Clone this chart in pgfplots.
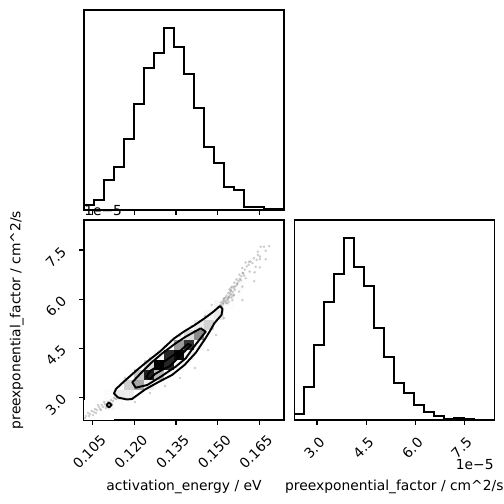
\documentclass[border=0pt]{standalone}
\usepackage{fontspec}
\setmainfont{DejaVu Sans}
\usepackage{pgfplots}
\usepackage{pgfplotstable}
\pgfplotsset{compat=1.18}

\pgfplotsset{
  colormap={dens}{color(0)=(white) color(1)=(black)},
  panel/.style={
    scale only axis, width=144bp, height=144bp,
    axis line style={line width=0.8bp},
    tick align=outside, tick pos=left,
    major tick length=3.5bp,
    every tick/.style={black, line width=0.8bp},
    tick label style={font=\fontsize{10}{12}\selectfont, inner sep=0pt},
    label style={font=\fontsize{10}{12}\selectfont, inner sep=0pt},
  },
  jointlimits/.style={xmin=0.10187, xmax=0.17387, ymin=2.3065, ymax=8.4165},
  histline/.style={const plot, black, line width=1.4bp, line join=miter},
  levelline/.style={black, line width=1.4bp, line join=round},
}

% 2-d histogram cells: bin centres and relative density f = n / n_max
\pgfplotstableread{
x       y      f
0.1037  2.459  0.033
0.1037  2.765  0.009
0.1073  2.459  0.045
0.1073  2.765  0.056
0.1073  3.070  0.007
0.1109  2.459  0.030
0.1109  2.765  0.181
0.1109  3.070  0.116
0.1109  3.376  0.008
0.1145  2.765  0.095
0.1145  3.070  0.289
0.1145  3.376  0.095
0.1181  2.765  0.018
0.1181  3.070  0.275
0.1181  3.376  0.427
0.1181  3.681  0.071
0.1217  3.070  0.079
0.1217  3.376  0.589
0.1217  3.681  0.473
0.1217  3.987  0.039
0.1253  3.070  0.006
0.1253  3.376  0.246
0.1253  3.681  0.934
0.1253  3.987  0.384
0.1253  4.292  0.016
0.1289  3.376  0.026
0.1289  3.681  0.517
0.1289  3.987  1.000
0.1289  4.292  0.211
0.1325  3.681  0.098
0.1325  3.987  0.917
0.1325  4.292  0.917
0.1325  4.598  0.098
0.1361  3.987  0.163
0.1361  4.292  0.979
0.1361  4.598  0.630
0.1361  4.903  0.042
0.1397  4.292  0.235
0.1397  4.598  0.892
0.1397  4.903  0.367
0.1397  5.209  0.015
0.1433  4.598  0.176
0.1433  4.903  0.671
0.1433  5.209  0.276
0.1433  5.514  0.012
0.1469  4.903  0.110
0.1469  5.209  0.417
0.1469  5.514  0.171
0.1469  5.820  0.007
0.1505  5.209  0.047
0.1505  5.514  0.281
0.1505  5.820  0.181
0.1505  6.125  0.012
0.1541  5.514  0.012
0.1541  5.820  0.114
0.1541  6.125  0.114
0.1541  6.431  0.012
0.1577  6.125  0.064
0.1577  6.431  0.125
0.1577  6.736  0.026
0.1613  6.736  0.020
0.1613  7.042  0.013
0.1649  7.042  0.011
0.1649  7.348  0.021
}\cells

% samples lying outside the outermost contour
\pgfplotstableread{
x       y
0.1500  5.75
0.1508  5.80
0.1515  5.78
0.1520  5.85
0.1512  5.90
0.1525  5.92
0.1530  5.88
0.1522  6.00
0.1535  5.98
0.1540  6.05
0.1532  6.10
0.1545  6.12
0.1538  6.18
0.1550  6.15
0.1548  6.25
0.1555  6.22
0.1542  6.30
0.1558  6.33
0.1562  6.28
0.1565  6.40
0.1552  6.38
0.1570  6.45
0.1560  6.50
0.1575  6.55
0.1568  6.60
0.1580  6.62
0.1585  6.70
0.1578  6.75
0.1590  6.80
0.1595  6.72
0.1598  6.90
0.1588  6.95
0.1605  7.00
0.1612  7.05
0.1600  7.12
0.1618  7.15
0.1625  7.10
0.1630  7.25
0.1640  7.20
0.1645  7.35
0.1652  7.30
0.1655  7.60
0.1667  7.60
0.1685  7.62
0.1645  7.45
0.1673  7.48
0.1652  7.22
0.1673  7.22
0.1613  7.14
0.1637  6.99
0.1652  6.97
0.1615  6.84
0.1633  6.82
0.1631  6.55
0.1592  6.79
0.1601  6.64
0.1583  6.58
0.1571  6.48
0.1559  6.38
0.1589  6.38
0.1577  6.23
0.1547  6.28
0.1559  6.13
0.1541  6.07
0.1523  6.02
0.1553  5.97
0.1535  5.87
0.1511  5.82
0.1589  5.97
0.1520  5.95
0.1528  6.05
0.1536  6.02
0.1544  6.20
0.1550  6.05
0.1530  5.95
0.1518  5.88
0.1540  5.92
0.1556  6.10
0.1548  6.35
0.1026  2.429
0.1033  2.520
0.1040  2.490
0.1047  2.582
0.1055  2.551
0.1058  2.643
0.1065  2.612
0.1073  2.704
0.1076  2.643
0.1083  2.765
0.1087  2.704
0.1094  2.795
0.1101  2.734
0.1105  2.856
0.1112  2.826
0.1116  2.918
0.1123  2.887
0.1127  2.979
0.1134  2.948
0.1022  2.368
0.1037  2.429
0.1062  2.520
0.1080  2.612
0.1091  2.856
0.1098  2.673
0.1119  2.795
0.1069  2.765
0.1051  2.459
0.1166  3.590
0.1202  3.834
0.1256  4.200
0.1310  4.567
0.1364  4.873
0.1407  5.178
0.1454  5.483
0.1479  5.823
0.1202  2.857
0.1256  3.131
0.1310  3.345
0.1364  3.590
0.1418  3.895
0.1465  4.445
0.1494  4.903
0.1523  5.422
}\samples

\begin{document}
\begin{tikzpicture}
\useasboundingbox (0,0) rectangle (362.88bp,362.88bp);

% ---- marginal: activation energy ----
\begin{axis}[panel, at={(60.48bp,211.68bp)}, anchor=south west,
  xmin=0.10187, xmax=0.17387, ymin=0, ymax=600,
  xtick={0.105,0.120,0.135,0.150,0.165}, xticklabels={}, ytick=\empty]
\addplot[histline] coordinates {
 (0.10187,0) (0.10187,15) (0.10547,30) (0.10907,90) (0.11267,130)
 (0.11627,213) (0.11987,317) (0.12347,426) (0.12707,472) (0.13067,545)
 (0.13427,488) (0.13787,407) (0.14147,306) (0.14507,190) (0.14867,140)
 (0.15227,68) (0.15587,59) (0.15947,10) (0.16307,10) (0.16667,2)
 (0.17027,2) (0.17387,2) (0.17387,0)};
\end{axis}

% ---- joint distribution: density cells and samples ----
\begin{axis}[panel, jointlimits, at={(60.48bp,60.48bp)}, anchor=south west,
  xtick={0.105,0.120,0.135,0.150,0.165},
  xticklabels={0.105,0.120,0.135,0.150,0.165},
  ytick={3.0,4.5,6.0,7.5}, yticklabels={3.0,4.5,6.0,7.5},
  xticklabel style={xshift=-2.5bp, rotate=45, anchor=center}, xticklabel shift=19.4bp,
  yticklabel style={yshift=-5.4bp, rotate=45, anchor=center}, yticklabel shift=16.7bp,
  xlabel={activation\_energy / eV},
  ylabel={preexponential\_factor / cm\textasciicircum 2/s},
  xlabel style={at={(axis description cs:0.5,-0.3)}, anchor=north},
  ylabel style={at={(axis description cs:-0.3,0.5)}, anchor=south},
]
% a cell of relative density f shows as grey level 1 - f^2
\addplot[scatter, only marks, mark=square*, mark size=3.6bp,
  point meta={\thisrow{f}*\thisrow{f}}, point meta min=0, point meta max=1,
  scatter/use mapped color={draw opacity=0, fill=mapped color},
] table[x=x, y=y] {\cells};
\addplot[only marks, mark=*, mark size=1bp,
  mark options={draw opacity=0, fill=black, fill opacity=0.2}] table {\samples};
\end{axis}

% ---- joint distribution: contour levels on top ----
\begin{axis}[panel, jointlimits, at={(60.48bp,60.48bp)}, anchor=south west,
  axis lines=none, ticks=none]
\addplot[levelline] coordinates {
 (0.15083,5.789) (0.15173,5.698) (0.15137,5.514) (0.14885,5.270) (0.14723,5.025)
 (0.14543,4.781) (0.14219,4.369) (0.13805,3.987) (0.13355,3.681) (0.12869,3.467)
 (0.12383,3.238) (0.11915,2.948) (0.11735,2.933) (0.11411,2.994) (0.11267,3.116)
 (0.11339,3.254) (0.11627,3.483) (0.12095,3.834) (0.12455,4.088) (0.12923,4.399)
 (0.13427,4.796) (0.13787,5.010) (0.14147,5.193) (0.14543,5.423) (0.14831,5.606)
 (0.15083,5.789)};
\addplot[levelline] coordinates {
 (0.10997,2.765) (0.11087,2.841) (0.11177,2.765) (0.11087,2.689) (0.10997,2.765)};
\addplot[levelline] coordinates {
 (0.14388,5.108) (0.14568,5.004) (0.14147,4.546) (0.13848,4.191) (0.13488,3.935)
 (0.12948,3.629) (0.12466,3.376) (0.12048,3.293) (0.11926,3.458) (0.12228,3.733)
 (0.12588,4.039) (0.13006,4.344) (0.13488,4.650) (0.13848,4.851) (0.14388,5.108)};
\addplot[levelline] coordinates {
 (0.12419,3.620) (0.12563,3.803) (0.12851,3.956) (0.13103,4.109) (0.13355,4.262)
 (0.13643,4.414) (0.13931,4.628) (0.14039,4.598) (0.13859,4.445) (0.13571,4.200)
 (0.13283,3.956) (0.12995,3.834) (0.12743,3.712) (0.12563,3.559) (0.12419,3.620)};
\addplot[levelline] coordinates {
 (0.12797,3.987) (0.12887,4.063) (0.12977,3.987) (0.12887,3.911) (0.12797,3.987)};
\addplot[levelline] coordinates {
 (0.13481,4.323) (0.13571,4.399) (0.13661,4.323) (0.13571,4.247) (0.13481,4.323)};
\end{axis}

% ---- marginal: preexponential factor ----
\begin{axis}[panel, at={(211.9bp,60.48bp)}, anchor=south west,
  xmin=2.3065, xmax=8.4165, ymin=0, ymax=600,
  xtick={3.0,4.5,6.0,7.5}, xticklabels={3.0,4.5,6.0,7.5}, ytick=\empty,
  xticklabel style={xshift=-2bp, rotate=45, anchor=center}, xticklabel shift=16.6bp,
  xlabel={preexponential\_factor / cm\textasciicircum 2/s},
  xlabel style={at={(axis description cs:0.5,-0.3)}, anchor=north},
]
\addplot[histline] coordinates {
 (2.3065,0) (2.3065,17) (2.612,98) (2.9175,225) (3.223,353) (3.5285,437)
 (3.834,545) (4.1395,459) (4.445,402) (4.7505,275) (5.056,188) (5.3615,110)
 (5.667,80) (5.9725,45) (6.278,25) (6.5835,12) (6.889,3) (7.1945,5)
 (7.5,3) (7.8055,0) (8.111,0) (8.4165,0) (8.4165,0)};
\end{axis}

% scale factors of the preexponential axes
\node[anchor=base west, inner sep=0pt, font=\fontsize{10}{12}\selectfont]
  at (60.48bp,207.6bp) {1e−5};
\node[anchor=base east, inner sep=0pt, font=\fontsize{10}{12}\selectfont]
  at (355.6bp,24.5bp) {1e−5};
\end{tikzpicture}
\end{document}
